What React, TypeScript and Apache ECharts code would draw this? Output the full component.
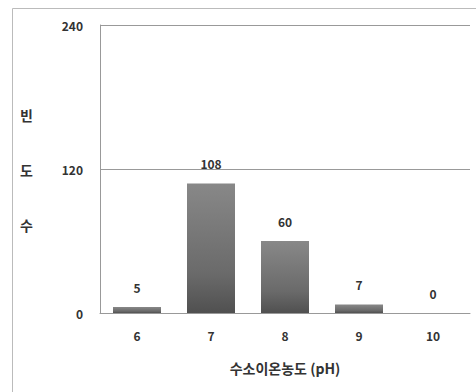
import React, { useEffect, useRef } from "react";
import * as echarts from "echarts";

const categories = ["6", "7", "8", "9", "10"];
const counts = [5, 108, 60, 7, 0];
const yTicks = [0, 120, 240];
const yAxisNameChars = ["빈", "도", "수"];
const xAxisName = "수소이온농도 (pH)";

export default function App() {
  const ref = useRef<HTMLDivElement>(null);
  useEffect(() => {
    if (!ref.current) return;
    const chart = echarts.init(ref.current, undefined, { renderer: "svg" });
    const font = "'Noto Sans CJK KR', 'Noto Sans', sans-serif";
    chart.setOption({
      animation: false,
      textStyle: { fontFamily: font },
      grid: { left: 100, right: 6, top: 25, bottom: 79 },
      xAxis: {
        type: "category",
        data: categories,
        axisLine: { lineStyle: { color: "#999", width: 1 } },
        axisTick: { show: false },
        axisLabel: { color: "#333", fontWeight: "bold", fontSize: 12, margin: 16 },
        name: xAxisName,
        nameLocation: "middle",
        nameGap: 48,
        nameTextStyle: { color: "#333", fontWeight: "bold", fontSize: 14, fontFamily: font },
      },
      yAxis: {
        type: "value",
        min: 0,
        max: yTicks[yTicks.length - 1],
        interval: 120,
        axisLine: { show: true, lineStyle: { color: "#999" } },
        axisTick: { show: false },
        splitLine: { lineStyle: { color: "#999", width: 1 } },
        axisLabel: { color: "#333", fontWeight: "bold", fontSize: 12, margin: 17 },
      },
      graphic: [
        {
          type: "rect",
          shape: { x: 12.5, y: 8.5, width: 480, height: 400 },
          style: { fill: "none", stroke: "#bbb", lineWidth: 1 },
          silent: true,
          z: -1,
        },
        ...yAxisNameChars.map((c, i) => ({
          type: "text",
          left: 20,
          top: 108 + i * 55,
          style: { text: c, fill: "#333", fontWeight: "bold", fontSize: 14, fontFamily: font },
        })),
      ],
      series: [
        {
          type: "bar",
          data: counts,
          barWidth: 48,
          itemStyle: {
            color: new echarts.graphic.LinearGradient(0, 0, 0, 1, [
              { offset: 0, color: "#888" },
              { offset: 0.7, color: "#6a6a6a" },
              { offset: 1, color: "#505050" },
            ]),
          },
          label: {
            show: true,
            position: "top",
            distance: 14,
            color: "#333",
            fontWeight: "bold",
            fontSize: 12,
            fontFamily: font,
          },
        },
      ],
    });
    return () => chart.dispose();
  }, []);
  return <div ref={ref} style={{ width: 476, height: 392, position: "absolute", left: 0, top: 0, background: "#fff" }} />;
}
